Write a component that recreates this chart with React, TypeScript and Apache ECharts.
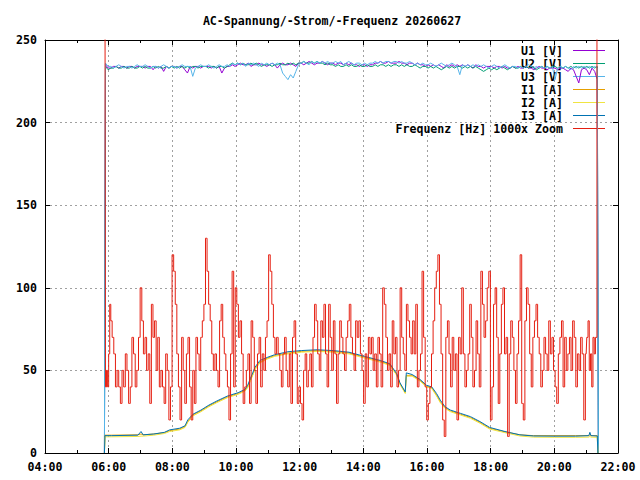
import React, { useEffect, useRef } from "react";
import * as echarts from "echarts";

const TITLE = "AC-Spannung/-Strom/-Frequenz 20260627";
const FONT = "DejaVu Sans Mono";
const FONT_SIZE = 11.6;

const seriesNames = ["U1 [V]", "U2 [V]", "U3 [V]", "I1 [A]", "I2 [A]", "I3 [A]", "Frequenz [Hz] 1000x Zoom"];
const seriesColors = ["#9400d3", "#009e73", "#56b4e9", "#e69f00", "#f0e442", "#0072b2", "#e51e10"];

const xTickHours = [4, 22];
const yRange = [0, 250];

// Voltages: evenly sampled between voltStart and voltEnd
const voltStart = "05:54";
const voltEnd = "21:21";
const voltOnTime = "05:52";
const voltOffTime = "21:23";
const u1 = [
  235, 233,
  233, 234, 234, 233, 234, 234, 233, 234, 234, 233, 234, 234,
  234, 233, 234, 234, 232, 234, 233, 234, 231, 234, 233, 234,
  234, 233, 234, 234, 232, 230, 234, 233, 234, 234, 233, 234,
  234, 234, 233, 234, 233, 234, 230, 233, 234, 234, 235, 234,
  235, 236, 235, 235, 236, 234, 235, 235, 236, 235, 235, 234,
  235, 236, 235, 233, 235, 236, 235, 235, 236, 235, 234, 236,
  236, 235, 236, 237, 236, 235, 236, 236, 237, 236, 235, 236,
  236, 235, 236, 236, 235, 236, 235, 236, 235, 235, 234, 235,
  235, 234, 235, 235, 236, 236, 237, 236, 236, 237, 236, 236,
  236, 237, 236, 236, 235, 236, 236, 235, 236, 235, 235, 234,
  235, 234, 235, 234, 235, 234, 233, 235, 234, 235, 234, 235,
  234, 235, 234, 235, 234, 233, 235, 234, 234, 233, 234, 234,
  234, 233, 234, 234, 233, 234, 233, 233, 234, 233, 234, 233,
  233, 234, 233, 233, 232, 233, 234, 233, 233, 232, 233, 233,
  233, 232, 233, 233, 232, 231, 233, 232, 228, 224, 232, 233,
  232, 229, 233, 231, 226,
];
const u2 = [
  234, 232,
  233, 233, 234, 233, 233, 234, 233, 233, 234, 233, 233, 234,
  233, 234, 233, 233, 234, 233, 234, 233, 233, 234, 233, 234,
  233, 234, 233, 234, 233, 234, 233, 234, 234, 233, 234, 234,
  234, 233, 234, 234, 233, 234, 234, 233, 234, 235, 236, 235,
  236, 235, 236, 235, 235, 236, 235, 236, 235, 234, 235, 235,
  235, 234, 235, 235, 236, 235, 235, 236, 235, 236, 235, 236,
  236, 237, 236, 236, 237, 236, 237, 236, 236, 235, 236, 235,
  235, 234, 235, 234, 234, 235, 234, 235, 234, 234, 235, 234,
  234, 235, 234, 234, 235, 234, 235, 235, 234, 235, 234, 235,
  235, 234, 235, 234, 235, 234, 234, 235, 234, 233, 234, 234,
  233, 234, 233, 234, 233, 232, 233, 234, 233, 234, 233, 234,
  234, 233, 234, 233, 234, 233, 234, 233, 232, 231, 232, 233,
  232, 233, 232, 233, 234, 233, 232, 233, 234, 233, 233, 234,
  233, 234, 233, 234, 233, 232, 233, 234, 233, 234, 233, 234,
  234, 233, 234, 233, 234, 233, 234, 233, 234, 233, 234, 233,
  234, 233, 234, 233, 234,
];
const u3 = [
  236, 234,
  234, 233, 234, 235, 234, 233, 234, 234, 233, 234, 235, 234,
  234, 235, 234, 233, 234, 234, 233, 234, 235, 234, 233, 234,
  234, 233, 234, 235, 234, 234, 234, 228, 233, 234, 235, 234,
  234, 235, 234, 233, 234, 235, 234, 234, 235, 234, 236, 235,
  236, 235, 236, 234, 236, 235, 236, 235, 234, 236, 235, 236,
  235, 236, 235, 236, 235, 230, 228, 226, 229, 227, 231, 235,
  236, 237, 236, 235, 237, 236, 237, 236, 237, 236, 237, 236,
  236, 237, 236, 237, 235, 236, 237, 236, 235, 236, 236, 235,
  236, 235, 236, 236, 237, 236, 237, 236, 237, 237, 236, 237,
  237, 236, 237, 236, 236, 237, 236, 235, 236, 235, 236, 235,
  235, 236, 235, 234, 235, 236, 235, 234, 235, 236, 235, 234,
  229, 235, 234, 235, 234, 235, 234, 235, 234, 235, 234, 233,
  234, 235, 234, 233, 234, 235, 234, 233, 234, 234, 233, 234,
  233, 234, 235, 234, 233, 234, 233, 234, 233, 234, 233, 234,
  226, 233, 234, 233, 234, 233, 232, 234, 233, 234, 233, 234,
  233, 234, 233, 234, 233,
];

// Currents
const curTimes = [
  "05:52", "05:53", "06:05", "06:55", "07:01", "07:05", "07:25", "07:45", "07:55", "08:14",
  "08:24", "08:29", "08:39", "08:54", "09:09", "09:24", "09:44", "10:04", "10:17", "10:22",
  "10:27", "10:36", "10:45", "11:00", "11:13", "11:38", "12:03", "12:33", "13:03", "13:33",
  "14:02", "14:32", "14:50", "15:03", "15:09", "15:19", "15:21", "15:32", "15:47", "15:59",
  "16:09", "16:18", "16:25", "16:34", "16:44", "17:03", "17:22", "17:40", "17:58", "18:27",
  "18:55", "19:21", "20:00", "20:40", "21:05", "21:07", "21:09", "21:21", "21:22",
];
const i1 = [
  0, 10.8, 10.8, 11, 11.5, 11, 11.5, 12.3, 13.5, 14.5,
  16, 19, 23, 25.5, 28.5, 31, 34, 36, 38, 40,
  44, 51, 55, 57.5, 59, 60.5, 61.5, 62, 61.5, 60.5,
  58, 55.5, 53.5, 47.5, 42, 36.5, 47, 47, 44, 40.5,
  39.5, 35, 31, 27.5, 25.5, 23.5, 21.5, 18.5, 15, 12.8,
  11, 10.5, 10.5, 10.5, 10.5, 11, 10.5, 10.5, 0,
];
const i2 = [
  0, 9.8, 9.8, 10, 10.2, 10.2, 10.8, 11.8, 13, 14,
  15.5, 18.5, 22.5, 25, 28, 30.5, 33.5, 35.5, 37.5, 39.5,
  43.5, 50.5, 54.5, 57, 58.5, 60, 61, 61.5, 61, 60,
  57.5, 55, 53, 47, 41.5, 36, 46.5, 46.5, 43.5, 40,
  39, 34.5, 30.5, 27, 25, 23, 21, 18, 14.5, 12.3,
  10.3, 9.6, 9.5, 9.5, 9.6, 10, 9.6, 9.5, 0,
];
const i3 = [
  0, 10.5, 10.5, 10.8, 13, 11, 11.5, 12.5, 14, 15,
  16.5, 20, 23.5, 26, 29, 31.5, 34.5, 36.5, 38.5, 41,
  45, 52, 56, 58, 59.5, 61.3, 62, 62.5, 62, 61,
  58.5, 56, 54, 48, 42.5, 37, 48.5, 47.5, 44.5, 41,
  40, 36, 32, 28, 26, 24, 22, 19, 15.5, 13,
  11, 10.3, 10.2, 10.2, 10.5, 12.5, 10.5, 10.3, 0,
];

// Frequency (x1000 zoom), blocks of evenly spaced samples
const freqBlockStarts = [
  "05:53", "06:05", "07:04", "08:04", "09:04", "10:03", "11:03", "12:03", "13:02",
  "14:02", "15:02", "16:01", "17:01", "18:01", "19:00", "20:00", "21:00",
];
const freqEnd = "21:21";
const freqBlockValues = [
  [300, 40, 50, 40, 60, 90],
  [80, 70, 60, 40, 50, 40, 30, 50, 40, 60, 50, 30, 40, 70, 60, 40, 50, 70, 100],
  [80, 60, 70, 50, 60, 30, 90, 70, 80, 50, 70, 40, 50, 40, 30, 60, 50, 20, 40, 120],
  [110, 90, 60, 40, 20, 70, 50, 30, 60, 70, 40, 20, 50, 30, 70, 60, 50, 70, 80, 90],
  [130, 110, 90, 80, 60, 50, 60, 50, 40, 80, 90, 70, 60, 50, 40, 20, 60, 110, 40, 100],
  [90, 70, 80, 60, 30, 40, 50, 60, 30, 80, 70, 50, 30, 60, 70, 40, 60, 50, 70, 80],
  [120, 110, 90, 70, 60, 70, 60, 50, 40, 60, 70, 50, 40, 60, 30, 70, 80, 60, 30, 40],
  [30, 20, 50, 60, 40, 50, 60, 40, 70, 90, 80, 60, 50, 80, 70, 90, 60, 40, 90, 70],
  [50, 80, 60, 30, 60, 80, 70, 60, 50, 70, 80, 90, 70, 60, 50, 80, 70, 80, 60, 50],
  [30, 60, 40, 70, 60, 70, 50, 60, 40, 70, 60, 40, 100, 90, 70, 50, 60, 40, 80, 60],
  [70, 40, 50, 100, 70, 60, 50, 90, 80, 70, 60, 80, 60, 90, 40, 50, 60, 110, 70, 40],
  [20, 30, 40, 60, 80, 100, 110, 120, 90, 60, 20, 10, 70, 80, 60, 40, 70, 50, 60, 20],
  [70, 60, 100, 60, 40, 50, 60, 90, 70, 40, 50, 80, 60, 40, 110, 90, 70, 80, 100, 110],
  [20, 40, 90, 100, 70, 30, 60, 90, 100, 60, 70, 10, 60, 80, 70, 50, 30, 60, 80, 120],
  [30, 20, 80, 100, 90, 60, 40, 70, 80, 90, 70, 60, 40, 50, 70, 60, 50, 80, 60, 70],
  [50, 40, 30, 60, 70, 80, 40, 70, 50, 60, 70, 50, 80, 70, 40, 60, 50, 70, 60, 20],
  [60, 70, 80, 50, 60, 40, 70, 60, 70],
];
const freqTailTime = "21:22";
const freqTailValue = 300;

const toH = (s: string) => {
  const [h, m] = s.split(":").map(Number);
  return h + m / 60;
};
const pad2 = (n: number) => String(n).padStart(2, "0");

function voltData(vals: number[]) {
  const t0 = toH(voltStart);
  const step = (toH(voltEnd) - t0) / (vals.length - 1);
  return [
    [toH(voltOnTime), 0],
    ...vals.map((v, i) => [t0 + i * step, v]),
    [toH(voltOffTime), 0],
  ];
}
function curData(vals: number[]) {
  return vals.map((v, i) => [toH(curTimes[i]), v]);
}
function freqData() {
  const pts: number[][] = [];
  freqBlockValues.forEach((vals, b) => {
    const s = toH(freqBlockStarts[b]);
    const e = b + 1 < freqBlockStarts.length ? toH(freqBlockStarts[b + 1]) : toH(freqEnd);
    vals.forEach((v, k) => pts.push([s + ((e - s) * k) / vals.length, v]));
  });
  pts.push([toH(freqTailTime), freqTailValue]);
  return pts;
}

const legendY = [50.5, 63.5, 76.5, 89.5, 102.5, 115.5, 128.5];

export default function App() {
  const ref = useRef<HTMLDivElement>(null);
  useEffect(() => {
    if (!ref.current) return;
    const chart = echarts.init(ref.current, null, { renderer: "svg" });
    const datas = [voltData(u1), voltData(u2), voltData(u3), curData(i1), curData(i2), curData(i3), freqData()];
    const labelStyle = { fontFamily: FONT, fontWeight: "bold" as const, fontSize: FONT_SIZE, color: "#000" };
    const axisLine = { show: true, onZero: false, lineStyle: { color: "#000", width: 1 } };
    const dotted = { show: true, lineStyle: { color: "#a0a0a0", type: [2, 3] as any, width: 1 } };
    const graphics: any[] = [];
    seriesNames.forEach((name, i) => {
      graphics.push({
        type: "text",
        x: 563,
        y: legendY[i],
        z: 1,
        style: { text: name, textAlign: "right", textVerticalAlign: "middle", font: `bold ${FONT_SIZE}px "${FONT}"`, fill: "#000" },
      });
      graphics.push({
        type: "line",
        z: 1,
        shape: { x1: 573, y1: legendY[i], x2: 605, y2: legendY[i] },
        style: { stroke: seriesColors[i], lineWidth: 1 },
      });
    });
    chart.setOption({
      animation: false,
      backgroundColor: "#fff",
      title: {
        text: TITLE,
        left: 332,
        top: 15,
        textAlign: "center",
        padding: 0,
        textStyle: { ...labelStyle },
      },
      grid: { left: 45, right: 22, top: 40, bottom: 27, containLabel: false },
      xAxis: [
        {
          type: "value",
          min: xTickHours[0],
          max: xTickHours[1],
          interval: 2,
          axisLine,
          axisTick: { show: true, inside: true, length: 5, lineStyle: { color: "#000" } },
          minorTick: { show: true, splitNumber: 2, length: 3, lineStyle: { color: "#000" } },
          axisLabel: { ...labelStyle, margin: 8, formatter: (v: number) => pad2(v) + ":00" },
          splitLine: dotted,
        },
        {
          type: "value",
          position: "top",
          min: xTickHours[0],
          max: xTickHours[1],
          interval: 2,
          axisLine,
          axisTick: { show: true, inside: true, length: 5, lineStyle: { color: "#000" } },
          minorTick: { show: true, splitNumber: 2, length: 3, lineStyle: { color: "#000" } },
          axisLabel: { show: false },
          splitLine: { show: false },
        },
      ],
      yAxis: [
        {
          type: "value",
          min: yRange[0],
          max: yRange[1],
          interval: 50,
          axisLine,
          axisTick: { show: true, inside: true, length: 5, lineStyle: { color: "#000" } },
          axisLabel: { ...labelStyle, margin: 8 },
          splitLine: dotted,
        },
        {
          type: "value",
          position: "right",
          min: yRange[0],
          max: yRange[1],
          interval: 50,
          axisLine,
          axisTick: { show: true, inside: true, length: 5, lineStyle: { color: "#000" } },
          axisLabel: { show: false },
          splitLine: { show: false },
        },
      ],
      graphic: graphics,
      series: seriesNames.map((name, i) => ({
        name,
        type: "line",
        xAxisIndex: 0,
        yAxisIndex: 0,
        data: datas[i],
        showSymbol: false,
        symbol: "none",
        clip: true,
        step: i === 6 ? "middle" : undefined,
        z: 2 + i,
        lineStyle: { color: seriesColors[i], width: 1 },
        itemStyle: { color: seriesColors[i] },
        emphasis: { disabled: true },
      })),
    });
    return () => chart.dispose();
  }, []);
  return <div ref={ref} style={{ position: "absolute", left: 0, top: 0, width: 640, height: 480 }} />;
}
